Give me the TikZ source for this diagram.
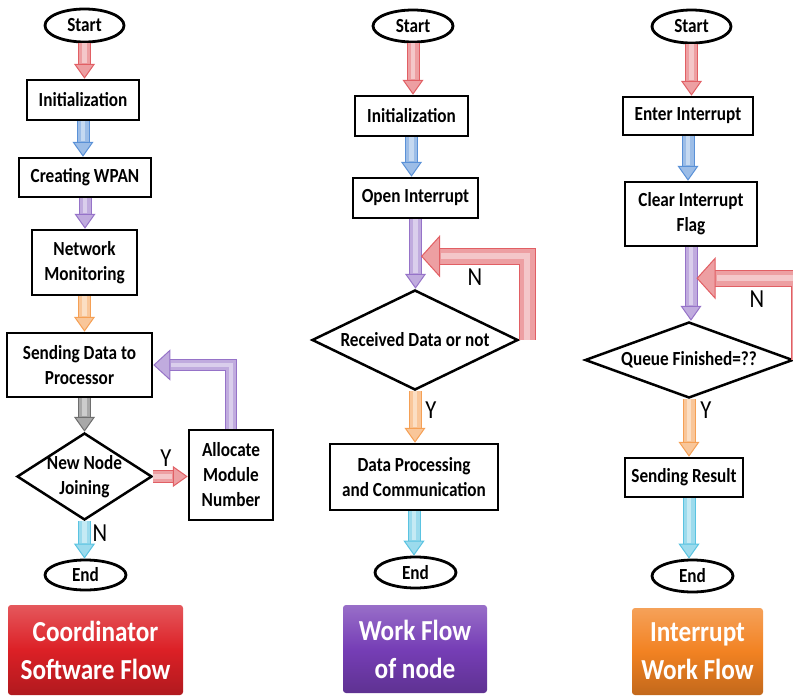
\documentclass[tikz,border=0pt]{standalone}
\usepackage{fontspec}
\setmainfont{Carlito}
\newfontfamily\boxfont[FakeStretch=0.86]{Carlito}
\newfontfamily\tagfont[FakeStretch=0.87]{Carlito}
\usetikzlibrary{arrows.meta,calc,shapes.geometric}

\definecolor{arRed}{RGB}{225,95,100}
\definecolor{arBlue}{RGB}{90,145,215}
\definecolor{arPurple}{RGB}{150,115,200}
\definecolor{arOrange}{RGB}{245,160,85}
\definecolor{arGray}{RGB}{110,110,110}
\definecolor{arCyan}{RGB}{90,195,225}
\definecolor{labRed}{RGB}{220,32,38}
\definecolor{labPurple}{RGB}{118,62,182}
\definecolor{labOrange}{RGB}{242,130,34}

\tikzset{
  box/.style={draw, line width=2.5pt, fill=white, align=center, inner sep=2pt,
    font=\boxfont\bfseries\fontsize{20pt}{25pt}\selectfont},
  term/.style={box, ellipse, line width=2.8pt, inner sep=0pt},
  dec/.style={box, diamond, inner sep=0pt},
  yn/.style={font=\tagfont\fontsize{26pt}{30pt}\selectfont, inner sep=0pt},
  flowtag/.style={rounded corners=3pt, text=white, align=center,
    top color=#1!75!white, bottom color=#1!80!black, middle color=#1,
    font=\tagfont\bfseries\fontsize{29pt}{38pt}\selectfont},
  blk/.style n args={4}{line width=#2, draw=#1!60!white, line join=miter,
    preaction={draw=#1, line width=#2+2pt, arrows=-, shorten >=#4-1pt},
    postaction={draw=#1!35!white, line width=#2*0.4, arrows=-, shorten >=#4+1pt},
    -{Triangle[width=#3, length=#4, fill=#1!60!white, color=#1, line width=1pt]}},
  flow/.style={blk={#1}{11pt}{21pt}{15pt}}
}

\begin{document}
\begin{tikzpicture}[x=1pt,y=-1pt]
\useasboundingbox (0,0) rectangle (793,696);
\clip (0,0) rectangle (793,696);

% Coordinator software flow
\node[term,minimum width=79pt,minimum height=33pt] (s1) at (84.5,25.5) {Start};
\node[box,minimum width=112pt,minimum height=40pt] (i1) at (83,100) {Initialization};
\node[box,minimum width=132pt,minimum height=39pt] (w1) at (85,177.5) {Creating WPAN};
\node[box,minimum width=105pt,minimum height=65pt] (m1) at (84.5,262.5) {Network\\Monitoring};
\node[box,minimum width=145pt,minimum height=64pt] (d1) at (79.5,365) {Sending Data to\\Processor};
\node[dec,shape aspect=1.55,inner sep=-3pt,minimum width=135pt,minimum height=87pt] (q1) at (84.5,476.5) {New Node\\Joining};
\node[box,minimum width=84pt,minimum height=90pt] (a1) at (231,475) {Allocate\\Module\\Number};
\node[term,minimum width=81pt,minimum height=30pt] (e1) at (85.5,575) {End};
\node[yn] (y1) at (166,458) {Y};
\node[yn] (n1) at (100,533) {N};

\draw[flow=arRed] (s1.south) -- (s1.south |- i1.north);
\draw[flow=arBlue] (i1.south) -- (i1.south |- w1.north);
\draw[flow=arPurple] (w1.south) -- (w1.south |- m1.north);
\draw[flow=arOrange] (m1.south) -- (m1.south |- d1.north);
\draw[flow=arGray] (q1.north |- d1.south) -- (q1.north);
\draw[flow=arRed] (q1.east) -- (q1.east -| a1.west);
\draw[flow=arCyan] (q1.south) -- (q1.south |- e1.north);
\draw[blk={arPurple}{10pt}{31pt}{17pt}] (a1.north) |- (d1.east);

% Work flow of node
\node[term,minimum width=80pt,minimum height=32pt] (s2) at (413,26) {Start};
\node[box,minimum width=113pt,minimum height=40pt] (i2) at (411.5,116) {Initialization};
\node[box,minimum width=125pt,minimum height=40pt] (o2) at (415.5,198) {Open Interrupt};
\node[dec,shape aspect=2.06,minimum width=206pt,minimum height=100pt] (r2) at (415,340) {Received Data or not};
\node[box,minimum width=168pt,minimum height=66pt] (p2) at (414,477) {Data Processing\\and Communication};
\node[term,minimum width=81pt,minimum height=31pt] (e2) at (415.5,572.5) {End};
\node[yn] (y2) at (431,410) {Y};
\node[yn] (n2) at (475,277) {N};
\coordinate (t2) at ($(o2.south)+(5.5,37)$);

\draw[flow=arRed] (s2.south) -- (s2.south |- i2.north);
\draw[flow=arBlue] (i2.south) -- (i2.south |- o2.north);
\draw[flow=arPurple] (o2.south) -- (o2.south |- r2.north);
\draw[flow=arOrange] (r2.south) -- (r2.south |- p2.north);
\draw[flow=arCyan] (p2.south) -- (p2.south |- e2.north);
\draw[blk={arRed}{15pt}{42pt}{19pt}] (r2.east) ++(8,0) |- (t2);

% Interrupt work flow
\node[term,minimum width=79pt,minimum height=33pt] (s3) at (691.5,26.5) {Start};
\node[box,minimum width=130pt,minimum height=38pt] (n3) at (688,116) {Enter Interrupt};
\node[box,minimum width=132pt,minimum height=64pt] (f3) at (691,214) {Clear Interrupt\\Flag};
\node[dec,shape aspect=2.74,minimum width=208pt,minimum height=76pt] (q3) at (689,360) {Queue Finished=??};
\node[box,minimum width=118pt,minimum height=39pt] (r3) at (684,477.5) {Sending Result};
\node[term,minimum width=81pt,minimum height=32pt] (e3) at (692.5,576) {End};
\node[yn] (y3) at (706,410) {Y};
\node[yn] (nn3) at (757,299) {N};
\coordinate (t3) at ($(f3.south)+(5.5,31)$);

\draw[flow=arRed] (s3.south) -- (s3.south |- n3.north);
\draw[flow=arBlue] (n3.south) -- (n3.south |- f3.north);
\draw[flow=arPurple] (f3.south) -- (f3.south |- q3.north);
\draw[flow=arOrange] (q3.south) -- (q3.south |- r3.north);
\draw[flow=arCyan] (q3.south |- r3.south) -- (q3.south |- e3.north);
\draw[blk={arRed}{15pt}{42pt}{19pt}] (q3.east) ++(5,0) |- (t3);

% Titles
\node[flowtag=labRed,minimum width=175pt,minimum height=90pt] (l1) at (95.5,650) {Coordinator\\Software Flow};
\node[flowtag=labPurple,minimum width=144pt,minimum height=88pt] (l2) at (415,649) {Work Flow\\of node};
\node[flowtag=labOrange,minimum width=131pt,minimum height=87pt] (l3) at (697.5,651.5) {Interrupt\\Work Flow};

\end{tikzpicture}
\end{document}
